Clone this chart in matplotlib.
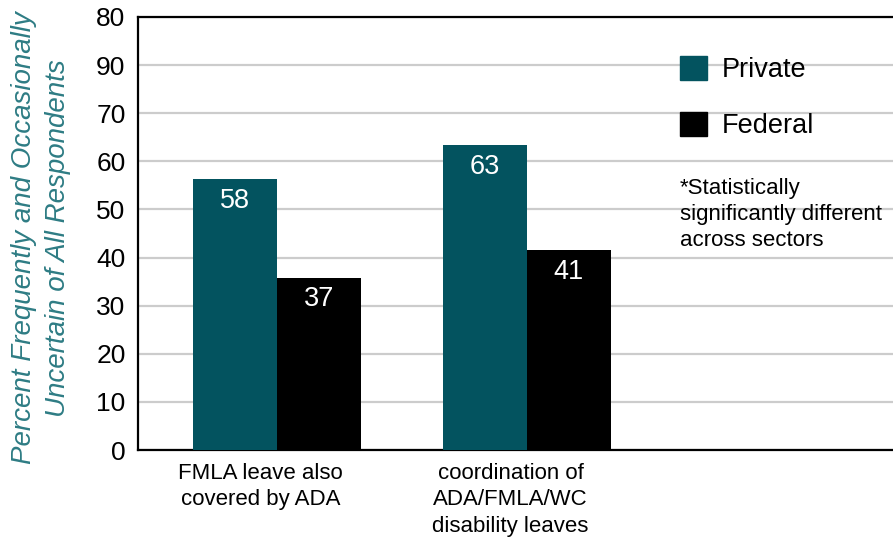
import matplotlib
matplotlib.use("Agg")
from matplotlib import pyplot as plt
from matplotlib.patches import Patch
import numpy as np

plt.rcParams['font.family'] = ['Liberation Sans', 'DejaVu Sans']

categories = ["FMLA leave also\ncovered by ADA",
              "coordination of\nADA/FMLA/WC\ndisability leaves"]
# bar heights as drawn in the picture, and the labels printed on them
private_heights = [56.3, 63.4]
federal_heights = [35.8, 41.5]
private_labels = ["58", "63"]
federal_labels = ["37", "41"]
y_ticks = [0, 10, 20, 30, 40, 50, 60, 70, 80, 90]
y_tick_labels = ["0", "10", "20", "30", "40", "50", "60", "70", "90", "80"]

PRIVATE_COLOR = "#03535f"
FEDERAL_COLOR = "#000000"
LABEL_COLOR = "#2e7c84"

fig = plt.figure(figsize=(8.93, 5.41), dpi=100)
ax = fig.add_axes([138 / 893, 91 / 541, 1 - 138 / 893, (450 - 17) / 541])

x = np.arange(len(categories))
w = 0.336
bars_p = ax.bar(x - w / 2, private_heights, w, color=PRIVATE_COLOR, zorder=3)
bars_f = ax.bar(x + w / 2, federal_heights, w, color=FEDERAL_COLOR, zorder=3)

for bars, labels in [(bars_p, private_labels), (bars_f, federal_labels)]:
    for b, lab in zip(bars, labels):
        ax.text(b.get_x() + b.get_width() / 2, b.get_height() - 4.5, lab,
                ha="center", va="center", color="white", fontsize=19.5, zorder=4)

ax.set_xlim(-0.555, 2.465)
ax.set_ylim(0, 90)
ax.set_yticks(y_ticks)
ax.set_yticklabels(y_tick_labels, fontsize=19)
ax.tick_params(axis="y", length=0, pad=9)
ax.set_xticks([])
ax.yaxis.grid(True, color="#cccccc", linewidth=1.6, zorder=0)

for i, cat in enumerate(categories):
    ax.text(i - 0.065, -2.6, cat, ha="center", va="top", fontsize=16,
            linespacing=1.35)

ax.spines["right"].set_visible(False)
for s in ["left", "top", "bottom"]:
    ax.spines[s].set_linewidth(1.6)

fig.text(41 / 893, 1 - 238 / 541,
         "Percent Frequently and Occasionally\nUncertain of All Respondents",
         fontsize=20, style="italic", color=LABEL_COLOR, linespacing=1.4,
         rotation=90, ha="center", va="center", multialignment="center")

handles = [Patch(color=PRIVATE_COLOR, label="Private"),
           Patch(color=FEDERAL_COLOR, label="Federal")]
fig.legend(handles=handles, loc="upper left", bbox_to_anchor=(680 / 893, 1 - 56 / 541),
           frameon=False, fontsize=19.5, handlelength=1.0, handleheight=1.0,
           handletextpad=0.55, labelspacing=1.05, borderpad=0, borderaxespad=0)

fig.text(680 / 893, 1 - 178 / 541, "*Statistically\nsignificantly different\nacross sectors",
         fontsize=16, va="top", ha="left", linespacing=1.32)

plt.savefig("out.png", dpi=100)
